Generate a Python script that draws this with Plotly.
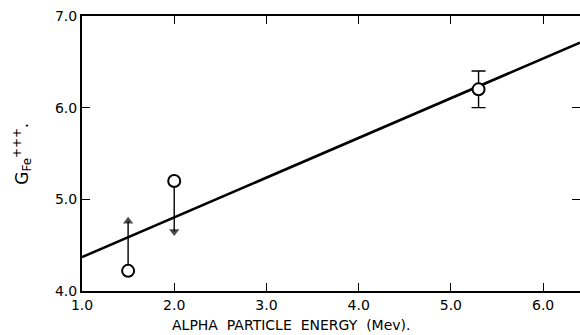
import plotly.graph_objects as go

# Fitted line
line_energy = [1.0, 6.4]
line_g = [4.37, 6.71]

# Measured points
point_energy = [1.5, 2.0, 5.3]
point_g = [4.22, 5.2, 6.2]

# Limit arrows (points 1 and 2)
arrow_energy = [1.5, 2.0]
arrow_from = [4.29, 5.13]
arrow_to = [4.76, 4.65]
arrow_symbols = ["triangle-up", "triangle-down"]

# Error bar on third point
err_energy = [5.3]
err_g = [6.2]
err_size = [0.2]

x_ticks = [1.0, 2.0, 3.0, 4.0, 5.0, 6.0]
x_labels = ["1.0", "2.0", "3.0", "4.0", "5.0", "6.0"]
y_ticks = [4.0, 5.0, 6.0, 7.0]
y_labels = ["4.0", "5.0", "6.0", "7.0"]

font_family = "DejaVu Sans"

fig = go.Figure()
fig.add_trace(go.Scatter(x=line_energy, y=line_g, mode="lines",
                         line=dict(color="black", width=2.6), showlegend=False))
fig.add_trace(go.Scatter(x=err_energy, y=err_g, mode="markers",
                         marker=dict(size=1, color="black"),
                         error_y=dict(type="data", array=err_size, color="black",
                                      thickness=1.4, width=7),
                         showlegend=False))
for xe, y0, y1, sym in zip(arrow_energy, arrow_from, arrow_to, arrow_symbols):
    fig.add_trace(go.Scatter(x=[xe, xe], y=[y0, y1], mode="lines+markers",
                             line=dict(color="black", width=1.4),
                             marker=dict(symbol=["circle", sym], size=[0, 9],
                                         color="black", line=dict(width=0)),
                             showlegend=False))
fig.add_trace(go.Scatter(x=point_energy, y=point_g, mode="markers",
                         marker=dict(symbol="circle", size=12, color="white",
                                     line=dict(color="black", width=2)),
                         showlegend=False))

fig.add_annotation(text="ALPHA  PARTICLE  ENERGY  (Mev).", xref="paper", yref="paper",
                   x=0.177, y=-0.124, xanchor="left", yanchor="middle", showarrow=False,
                   font=dict(size=14))
fig.add_annotation(text="G<sub>Fe</sub><sup>+++</sup>.", xref="paper", yref="paper",
                   x=-0.12, y=0.50, xanchor="center", yanchor="middle",
                   textangle=-90, showarrow=False, font=dict(size=17))

fig.update_layout(
    width=580, height=335,
    margin=dict(l=82, r=0, t=16, b=44),
    plot_bgcolor="white", paper_bgcolor="white",
    font=dict(family=font_family, size=14, color="black"),
    xaxis=dict(range=[1.0, 6.4], tickvals=x_ticks, ticktext=x_labels,
               ticks="inside", ticklen=8, tickwidth=1.2, tickcolor="black",
               showline=True, linecolor="black", linewidth=2, mirror="ticks",
               showgrid=False, zeroline=False, automargin=False),
    yaxis=dict(range=[4.0, 7.0], tickvals=y_ticks, ticktext=y_labels,
               ticks="inside", ticklen=8, tickwidth=1.2, tickcolor="black",
               showline=True, linecolor="black", linewidth=2, mirror="ticks",
               showgrid=False, zeroline=False, automargin=False),
)

fig.write_html("out.html", config={"displayModeBar": False},
               post_script="document.body.style.margin='0';document.body.style.overflow='hidden';")
